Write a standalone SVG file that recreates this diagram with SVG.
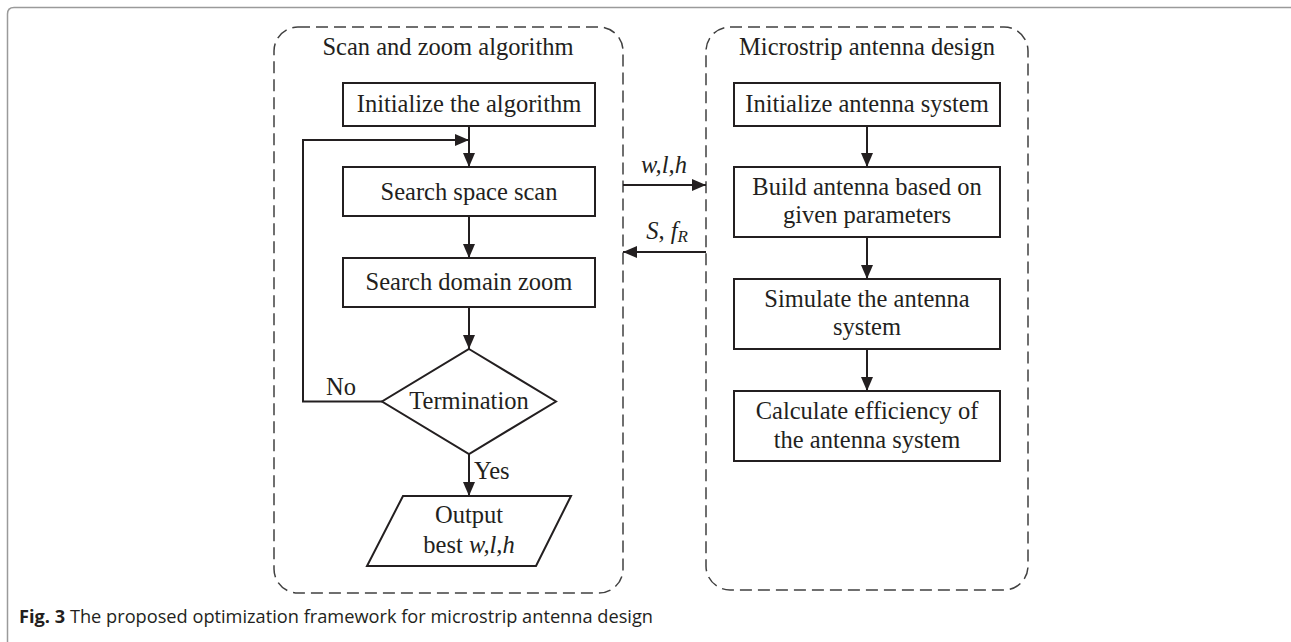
<svg xmlns="http://www.w3.org/2000/svg" width="1291" height="642" viewBox="0 0 1291 642">
<style>
.frame{fill:none;stroke:#9a9a9a;stroke-width:1.5}
.group{fill:none;stroke:#404040;stroke-width:1.5;stroke-dasharray:12 6}
.box{fill:#fff;stroke:#231f20;stroke-width:2}
.t{font-family:"Liberation Serif","Times New Roman",serif;font-size:24.5px;fill:#231f20;text-anchor:middle}
.it{font-style:italic}
.line{fill:none;stroke:#231f20;stroke-width:2}
.cap{font-family:"Open Sans","Noto Sans",sans-serif;font-size:18px;fill:#231f20}
</style>
<defs>
<marker id="ah" viewBox="0 0 14 12" refX="14" refY="6" markerWidth="14" markerHeight="12" markerUnits="userSpaceOnUse" orient="auto">
<path d="M0,0 L14,6 L0,12 Z" fill="#231f20"/>
</marker>
</defs>
<path class="frame" d="M1291,7.5 H14 Q7.5,7.5 7.5,14 V642"/>

<g id="group-scan">
<rect class="group" x="274" y="27" width="349" height="566" rx="24"/>
<text class="t" x="448" y="55">Scan and zoom algorithm</text>
</g>
<g id="group-antenna">
<rect class="group" x="706" y="27" width="322" height="563" rx="24"/>
<text class="t" x="867" y="55">Microstrip antenna design</text>
</g>

<g id="n-init-alg">
<rect class="box" x="343" y="83" width="252" height="43"/>
<text class="t" x="469" y="112">Initialize the algorithm</text>
</g>
<g id="n-scan">
<rect class="box" x="343" y="167" width="252" height="49"/>
<text class="t" x="469" y="200">Search space scan</text>
</g>
<g id="n-zoom">
<rect class="box" x="343" y="258" width="252" height="49"/>
<text class="t" x="469" y="290">Search domain zoom</text>
</g>
<g id="n-term">
<polygon class="box" points="469,349 556,401.5 469,454 382,401.5"/>
<text class="t" x="469" y="409">Termination</text>
</g>
<g id="n-output">
<polygon class="box" points="403,496 571,496 536,566 367,566"/>
<text class="t" x="469" y="523">Output</text>
<text class="t" x="469" y="553">best <tspan class="it">w,l,h</tspan></text>
</g>

<g id="n-init-ant">
<rect class="box" x="734" y="83" width="266" height="43"/>
<text class="t" x="867" y="112">Initialize antenna system</text>
</g>
<g id="n-build">
<rect class="box" x="734" y="167" width="266" height="70"/>
<text class="t" x="867" y="195">Build antenna based on</text>
<text class="t" x="867" y="223">given parameters</text>
</g>
<g id="n-sim">
<rect class="box" x="734" y="279" width="266" height="70"/>
<text class="t" x="867" y="307">Simulate the antenna</text>
<text class="t" x="867" y="335">system</text>
</g>
<g id="n-calc">
<rect class="box" x="734" y="391" width="266" height="70"/>
<text class="t" x="867" y="419">Calculate efficiency of</text>
<text class="t" x="867" y="448">the antenna system</text>
</g>

<g id="connectors">
<line class="line" x1="469" y1="126" x2="469" y2="167" marker-end="url(#ah)"/>
<polyline class="line" points="382,401.5 303,401.5 303,140 469,140" marker-end="url(#ah)"/>
<line class="line" x1="469" y1="216" x2="469" y2="258" marker-end="url(#ah)"/>
<line class="line" x1="469" y1="307" x2="469" y2="349" marker-end="url(#ah)"/>
<line class="line" x1="469" y1="454" x2="469" y2="496" marker-end="url(#ah)"/>
<line class="line" x1="867" y1="126" x2="867" y2="167" marker-end="url(#ah)"/>
<line class="line" x1="867" y1="237" x2="867" y2="279" marker-end="url(#ah)"/>
<line class="line" x1="867" y1="349" x2="867" y2="391" marker-end="url(#ah)"/>
<line class="line" x1="623" y1="185" x2="706" y2="185" marker-end="url(#ah)"/>
<line class="line" x1="706" y1="252" x2="623" y2="252" marker-end="url(#ah)"/>
<text class="t" x="341" y="395">No</text>
<text class="t" x="474" y="479" style="text-anchor:start">Yes</text>
<text class="t it" x="664" y="173">w,l,h</text>
<text class="t" x="667" y="239"><tspan class="it">S</tspan>, <tspan class="it">f</tspan><tspan class="it" font-size="17" dy="3">R</tspan></text>
</g>

<text class="cap" x="19" y="623" textLength="634" lengthAdjust="spacingAndGlyphs"><tspan font-weight="bold">Fig. 3</tspan> The proposed optimization framework for microstrip antenna design</text>
</svg>
